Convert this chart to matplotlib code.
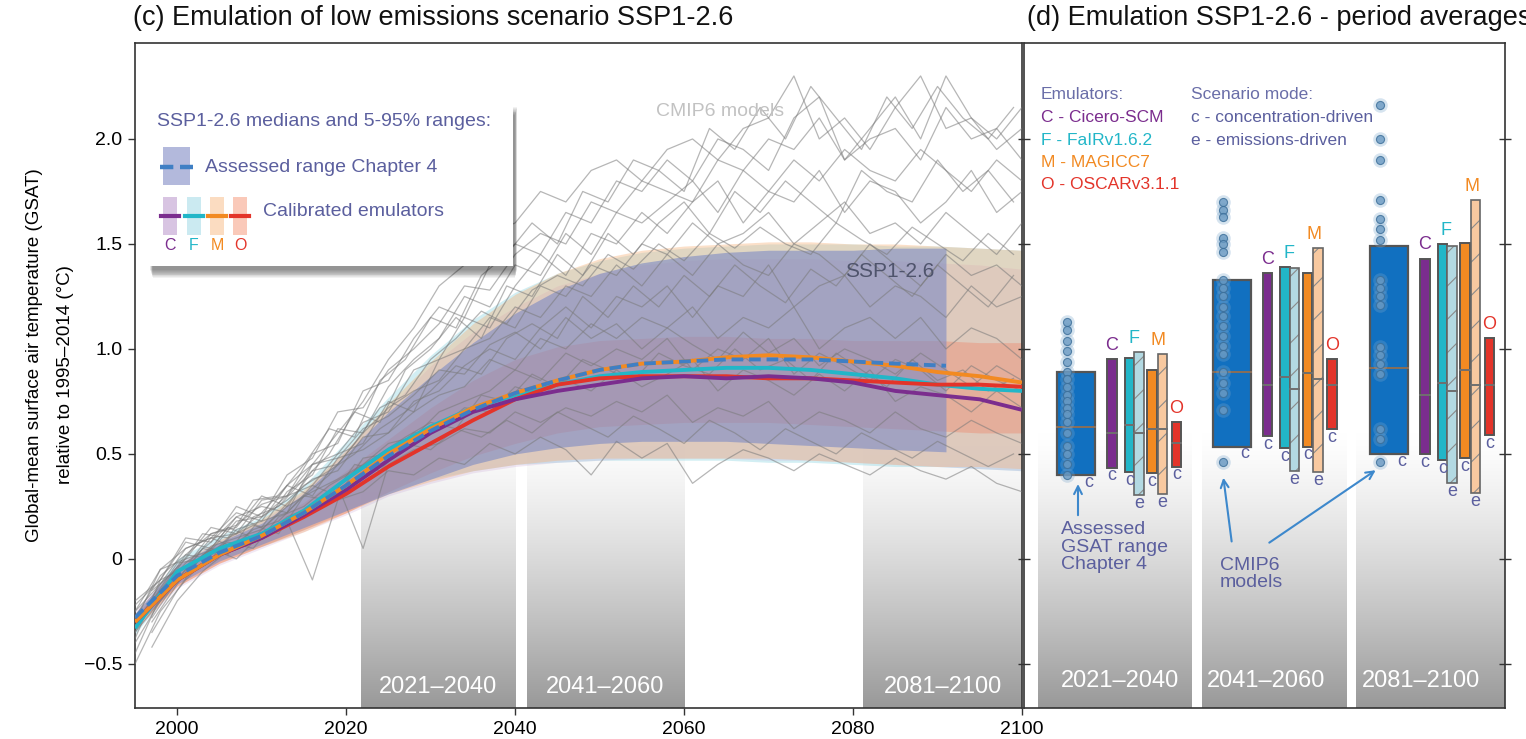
import matplotlib
matplotlib.use("Agg")
import matplotlib.pyplot as plt
import matplotlib.patches as mpatches
from matplotlib import font_manager
import numpy as np

W, H = 1526, 739

plt.rcParams['font.family'] = ['Liberation Sans', 'DejaVu Sans']
plt.rcParams['hatch.linewidth'] = 0.8
_names = {f.name for f in font_manager.fontManager.ttflist}
NARROW = ['Liberation Sans Narrow', 'Liberation Sans', 'DejaVu Sans'] \
    if 'Liberation Sans Narrow' in _names else ['Liberation Sans', 'DejaVu Sans']

YMIN, YMAX = -0.71, 2.457

# ---- panel (c): time series ------------------------------------------------
years = [1995, 2000, 2005, 2010, 2015, 2020, 2025, 2030, 2035, 2040, 2045,
         2050, 2055, 2060, 2065, 2070, 2075, 2080, 2085, 2090, 2095, 2100]

# assessed range (Chapter 4), stops at 2091
assessed_years = [1995, 2000, 2005, 2010, 2015, 2020, 2025, 2030, 2035, 2040,
                  2045, 2050, 2055, 2060, 2065, 2070, 2075, 2080, 2085, 2091]
assessed_med = [-0.28, -0.08, 0.03, 0.11, 0.22, 0.35, 0.49, 0.61, 0.71, 0.79,
                0.85, 0.90, 0.93, 0.94, 0.95, 0.95, 0.95, 0.94, 0.93, 0.92]
assessed_lo = [-0.32, -0.12, -0.01, 0.07, 0.15, 0.23, 0.31, 0.38, 0.45, 0.50,
               0.53, 0.55, 0.56, 0.56, 0.56, 0.55, 0.54, 0.53, 0.52, 0.51]
assessed_hi = [-0.26, -0.03, 0.08, 0.17, 0.31, 0.50, 0.70, 0.87, 1.03, 1.17,
               1.28, 1.36, 1.41, 1.44, 1.46, 1.47, 1.47, 1.47, 1.48, 1.48]

cicero_med = [-0.30, -0.10, 0.02, 0.10, 0.21, 0.33, 0.47, 0.60, 0.70, 0.76, 0.80,
              0.83, 0.86, 0.87, 0.86, 0.87, 0.86, 0.84, 0.80, 0.78, 0.76, 0.71]
cicero_lo = [-0.34, -0.14, -0.03, 0.05, 0.13, 0.21, 0.30, 0.36, 0.41, 0.44, 0.46,
             0.47, 0.48, 0.48, 0.48, 0.47, 0.47, 0.46, 0.45, 0.44, 0.43, 0.42]
cicero_hi = [-0.25, -0.02, 0.09, 0.18, 0.32, 0.52, 0.72, 0.92, 1.08, 1.20, 1.30,
             1.36, 1.40, 1.42, 1.43, 1.43, 1.43, 1.42, 1.42, 1.41, 1.40, 1.38]

fair_med = [-0.33, -0.06, 0.05, 0.12, 0.23, 0.38, 0.52, 0.63, 0.72, 0.78, 0.83,
            0.87, 0.89, 0.90, 0.91, 0.91, 0.90, 0.88, 0.86, 0.83, 0.81, 0.80]
fair_lo = [-0.36, -0.10, 0.00, 0.06, 0.14, 0.23, 0.32, 0.38, 0.42, 0.45, 0.46,
           0.47, 0.47, 0.47, 0.47, 0.46, 0.46, 0.45, 0.44, 0.44, 0.43, 0.42]
fair_hi = [-0.28, 0.00, 0.11, 0.20, 0.35, 0.56, 0.77, 0.97, 1.14, 1.27, 1.36,
           1.42, 1.46, 1.48, 1.49, 1.50, 1.50, 1.50, 1.49, 1.49, 1.48, 1.47]

magicc_med = [-0.30, -0.10, 0.02, 0.11, 0.22, 0.35, 0.50, 0.62, 0.72, 0.79, 0.85,
              0.90, 0.93, 0.94, 0.96, 0.97, 0.96, 0.94, 0.92, 0.89, 0.87, 0.84]
magicc_lo = [-0.34, -0.13, -0.02, 0.06, 0.13, 0.22, 0.31, 0.37, 0.42, 0.45, 0.47,
             0.48, 0.48, 0.48, 0.48, 0.48, 0.47, 0.46, 0.45, 0.44, 0.44, 0.43]
magicc_hi = [-0.26, -0.03, 0.09, 0.19, 0.33, 0.52, 0.74, 0.94, 1.12, 1.26, 1.36,
             1.43, 1.47, 1.49, 1.50, 1.51, 1.51, 1.50, 1.50, 1.49, 1.48, 1.47]

oscar_med = [-0.30, -0.10, 0.02, 0.10, 0.20, 0.31, 0.44, 0.55, 0.66, 0.76, 0.83,
             0.86, 0.87, 0.87, 0.87, 0.86, 0.86, 0.85, 0.84, 0.83, 0.83, 0.82]
oscar_lo = [-0.32, -0.13, -0.02, 0.06, 0.14, 0.22, 0.32, 0.41, 0.49, 0.55, 0.60,
            0.63, 0.64, 0.65, 0.65, 0.65, 0.64, 0.63, 0.62, 0.61, 0.60, 0.60]
oscar_hi = [-0.27, -0.06, 0.06, 0.15, 0.27, 0.42, 0.57, 0.72, 0.85, 0.95, 1.01,
            1.04, 1.05, 1.06, 1.06, 1.05, 1.05, 1.04, 1.04, 1.04, 1.03, 1.03]

# individual CMIP6 runs, sampled every third year (two offset grids)
cmip6_years = list(range(1995, 2101, 3))
cmip6_runs = [
    [-0.25, -0.12, 0.05, 0.10, 0.22, 0.18, 0.35, 0.45, 0.60, 0.75, 0.95, 1.10, 1.30, 1.40, 1.55, 1.60, 1.75, 1.70,
     1.85, 1.90, 1.80, 1.95, 2.00, 1.90, 2.05, 2.10, 2.30, 2.00, 2.10, 1.95, 2.15, 2.30, 2.05, 2.10, 1.95, 2.05],
    [-0.30, -0.05, 0.00, 0.15, 0.12, 0.28, 0.30, 0.50, 0.55, 0.80, 0.85, 1.05, 1.20, 1.15, 1.40, 1.50, 1.45, 1.65,
     1.60, 1.80, 1.75, 1.90, 1.80, 2.00, 1.95, 1.85, 2.10, 2.20, 1.90, 2.00, 2.05, 1.90, 2.15, 2.00, 2.05, 1.90],
    [-0.35, -0.15, -0.02, 0.08, 0.20, 0.15, 0.32, 0.40, 0.62, 0.60, 0.82, 0.95, 1.05, 1.25, 1.20, 1.40, 1.35, 1.55,
     1.45, 1.65, 1.60, 1.70, 1.80, 1.65, 1.85, 1.75, 1.90, 1.80, 1.95, 1.85, 1.80, 1.95, 1.85, 1.75, 1.90, 1.80],
    [-0.20, -0.10, 0.08, 0.05, 0.20, 0.25, 0.22, 0.45, 0.50, 0.65, 0.70, 0.90, 0.95, 1.15, 1.10, 1.30, 1.45, 1.35,
     1.55, 1.50, 1.65, 1.55, 1.70, 1.80, 1.60, 1.75, 1.70, 1.85, 1.65, 1.80, 1.75, 1.60, 1.70, 1.85, 1.65, 1.75],
    [-0.40, -0.20, -0.05, 0.10, 0.05, 0.20, 0.30, 0.35, 0.50, 0.55, 0.75, 0.70, 0.95, 1.00, 1.15, 1.10, 1.30, 1.25,
     1.40, 1.35, 1.50, 1.45, 1.60, 1.50, 1.55, 1.65, 1.50, 1.60, 1.70, 1.55, 1.60, 1.50, 1.65, 1.55, 1.45, 1.60],
    [-0.28, -0.08, 0.02, 0.12, 0.15, 0.30, 0.25, 0.42, 0.45, 0.60, 0.72, 0.80, 0.85, 1.00, 1.05, 1.20, 1.15, 1.30,
     1.25, 1.40, 1.30, 1.45, 1.35, 1.50, 1.40, 1.35, 1.50, 1.45, 1.35, 1.50, 1.40, 1.30, 1.45, 1.35, 1.40, 1.30],
    [-0.32, -0.12, 0.00, 0.04, 0.18, 0.20, 0.28, 0.38, 0.42, 0.58, 0.60, 0.75, 0.80, 0.92, 1.00, 0.95, 1.10, 1.20,
     1.10, 1.25, 1.20, 1.30, 1.15, 1.30, 1.25, 1.40, 1.20, 1.30, 1.35, 1.20, 1.30, 1.25, 1.15, 1.30, 1.20, 1.25],
    [-0.25, -0.05, 0.05, 0.10, 0.12, 0.22, 0.35, 0.30, 0.48, 0.52, 0.60, 0.70, 0.78, 0.82, 0.95, 0.90, 1.05, 1.00,
     1.12, 1.05, 1.15, 1.10, 1.20, 1.05, 1.15, 1.10, 1.20, 1.00, 1.10, 1.15, 1.05, 1.15, 1.00, 1.10, 1.05, 0.95],
    [-0.45, -0.18, -0.08, 0.06, 0.10, 0.14, 0.25, 0.32, 0.38, 0.45, 0.55, 0.58, 0.70, 0.75, 0.80, 0.90, 0.85, 0.98,
     0.92, 1.00, 0.95, 1.05, 0.90, 1.00, 0.95, 1.05, 0.88, 0.98, 0.92, 0.85, 0.95, 0.90, 0.80, 0.92, 0.85, 0.80],
    [-0.30, -0.15, 0.02, 0.00, 0.14, 0.18, 0.22, 0.35, 0.30, 0.48, 0.50, 0.60, 0.62, 0.72, 0.70, 0.82, 0.78, 0.85,
     0.80, 0.90, 0.82, 0.88, 0.95, 0.80, 0.90, 0.85, 0.78, 0.88, 0.80, 0.90, 0.75, 0.82, 0.78, 0.70, 0.80, 0.72],
    [-0.50, -0.25, -0.10, 0.02, 0.08, 0.10, 0.20, 0.25, 0.35, 0.05, 0.45, 0.52, 0.55, 0.62, 0.60, 0.70, 0.65, 0.72,
     0.68, 0.75, 0.70, 0.78, 0.65, 0.72, 0.68, 0.75, 0.62, 0.70, 0.66, 0.60, 0.70, 0.62, 0.58, 0.66, 0.60, 0.55],
    [-0.35, -0.20, -0.05, 0.05, 0.00, 0.12, 0.18, -0.10, 0.28, 0.32, 0.42, 0.40, 0.48, 0.45, 0.55, 0.50, 0.58, 0.52,
     0.40, 0.56, 0.48, 0.55, 0.36, 0.45, 0.52, 0.48, 0.42, 0.50, 0.45, 0.40, 0.48, 0.42, 0.38, 0.44, 0.36, 0.32],
    [-0.22, -0.10, 0.10, 0.08, 0.25, 0.20, 0.40, 0.48, 0.70, 0.72, 0.90, 1.00, 1.12, 1.30, 1.28, 1.45, 1.55, 1.50,
     1.70, 1.65, 1.80, 1.75, 1.70, 1.90, 1.85, 2.00, 1.95, 2.10, 1.90, 2.05, 2.20, 2.00, 2.30, 2.10, 2.00, 2.15],
    [-0.38, -0.10, -0.04, 0.12, 0.16, 0.26, 0.30, 0.45, 0.48, 0.62, 0.68, 0.78, 0.90, 0.88, 1.02, 1.08, 1.00, 1.15,
     1.05, 1.12, 1.00, 1.10, 1.02, 0.95, 1.08, 0.98, 1.05, 0.92, 1.00, 0.95, 0.88, 0.98, 0.90, 0.82, 0.92, 0.85],
]
cmip6_years_b = list(range(1997, 2100, 3))
cmip6_runs_b = [
    [-0.15, -0.05, 0.12, 0.10, 0.28, 0.30, 0.45, 0.62, 0.58, 0.85, 0.95, 1.15, 1.10, 1.35, 1.45, 1.60, 1.50, 1.75,
     1.70, 1.90, 1.85, 1.75, 2.05, 1.95, 2.15, 2.00, 2.25, 2.10, 1.95, 2.20, 2.05, 2.25, 2.10, 2.00, 2.15],
    [-0.30, -0.12, 0.05, 0.02, 0.20, 0.25, 0.38, 0.50, 0.70, 0.65, 0.90, 1.00, 1.15, 1.05, 1.30, 1.25, 1.45, 1.35,
     1.55, 1.45, 1.60, 1.70, 1.55, 1.75, 1.65, 1.80, 1.70, 1.60, 1.85, 1.75, 1.70, 1.90, 1.75, 1.85, 1.70],
    [-0.20, -0.02, 0.00, 0.15, 0.10, 0.22, 0.35, 0.42, 0.50, 0.62, 0.70, 0.80, 0.92, 0.88, 1.05, 1.12, 1.05, 1.25,
     1.15, 1.30, 1.20, 1.35, 1.25, 1.40, 1.30, 1.22, 1.38, 1.30, 1.45, 1.35, 1.25, 1.40, 1.30, 1.20, 1.35],
    [-0.35, -0.15, 0.02, 0.08, 0.05, 0.20, 0.25, 0.35, 0.42, 0.50, 0.58, 0.65, 0.62, 0.78, 0.75, 0.88, 0.82, 0.95,
     0.90, 0.85, 0.98, 0.92, 0.88, 1.00, 0.90, 0.95, 0.85, 0.98, 0.90, 0.82, 0.95, 0.85, 0.90, 0.80, 0.86],
    [-0.28, -0.10, -0.02, 0.10, 0.16, 0.12, 0.30, 0.28, 0.45, 0.42, 0.55, 0.52, 0.62, 0.58, 0.66, 0.60, 0.70, 0.64,
     0.58, 0.68, 0.62, 0.55, 0.66, 0.60, 0.52, 0.62, 0.56, 0.50, 0.60, 0.54, 0.48, 0.56, 0.50, 0.44, 0.50],
    [-0.42, -0.20, -0.06, 0.04, 0.14, 0.18, 0.30, 0.40, 0.55, 0.72, 0.78, 0.95, 1.05, 1.18, 1.12, 1.28, 1.35, 1.30,
     1.45, 1.38, 1.50, 1.42, 1.55, 1.48, 1.58, 1.50, 1.45, 1.60, 1.52, 1.45, 1.58, 1.50, 1.42, 1.55, 1.45],
]

period_labels = ['2021–2040', '2041–2060', '2081–2100']
period_spans = [(2021.7, 2040.0), (2041.4, 2060.0), (2081.2, 2100.0)]

# ---- panel (d): period averages -------------------------------------------
box_lo = [0.40, 0.535, 0.50]
box_hi = [0.89, 1.33, 1.49]
box_med = [0.63, 0.89, 0.91]

# bars per period: C(c), F(c), F(e), M(c), M(e), O(c)
bar_letter = ['C', 'F', 'F', 'M', 'M', 'O']
bar_mode = ['c', 'c', 'e', 'c', 'e', 'c']
bar_lo = [[0.435, 0.415, 0.305, 0.41, 0.31, 0.44],
          [0.585, 0.53, 0.42, 0.535, 0.415, 0.62],
          [0.50, 0.47, 0.36, 0.48, 0.315, 0.59]]
bar_hi = [[0.95, 0.957, 0.985, 0.90, 0.976, 0.65],
          [1.36, 1.39, 1.385, 1.36, 1.48, 0.95],
          [1.43, 1.50, 1.49, 1.505, 1.71, 1.05]]
bar_med = [[0.60, 0.64, 0.60, 0.62, 0.62, 0.55],
           [0.83, 0.865, 0.81, 0.885, 0.855, 0.83],
           [0.78, 0.84, 0.80, 0.90, 0.83, 0.83]]

cmip6_means = [
    [1.13, 1.09, 1.04, 0.99, 0.94, 0.89, 0.855, 0.82, 0.78, 0.75, 0.72, 0.69, 0.65, 0.60, 0.54, 0.50, 0.45, 0.40],
    [1.70, 1.66, 1.63, 1.53, 1.50, 1.46, 1.33, 1.29, 1.25, 1.20, 1.155, 1.11, 1.06, 1.015, 0.975, 0.89, 0.84,
     0.79, 0.71, 0.46],
    [2.16, 2.00, 1.90, 1.71, 1.62, 1.57, 1.52, 1.33, 1.29, 1.25, 1.21, 1.01, 0.97, 0.93, 0.88, 0.62, 0.57, 0.46],
]

# colours
C_COL, F_COL, M_COL, O_COL = '#7b2d8e', '#22b6c8', '#f28a22', '#e3342a'
ASSESS_LINE, ASSESS_FILL = '#3f7fc4', '#7f8cc4'
SLATE = '#5b5f9e'


def fx(x):
    return x / W


def fy(y):
    return 1 - y / H


def grey_column(ax, x0, x1, top=0.6):
    f = np.linspace(0, 1, 256)[:, None]
    g = 1 - 0.40 * f ** 1.3
    rgb = np.dstack([g, g, g])
    ax.imshow(rgb, extent=[x0, x1, YMIN, top], aspect='auto', origin='upper',
              zorder=0, interpolation='bilinear')


fig = plt.figure(figsize=(W / 100, H / 100), dpi=100)
axc = fig.add_axes([fx(135), fy(708), (1022 - 135) / W, (708 - 43) / H])
axd = fig.add_axes([fx(1024), fy(708), (1505 - 1024) / W, (708 - 43) / H])

# ---------------- panel (c) ----------------
for (x0, x1), lab in zip(period_spans, period_labels):
    grey_column(axc, x0, x1)
    axc.text((x0 + x1) / 2, -0.61, lab, color='white', fontsize=17, family=NARROW,
             ha='center', va='center', zorder=1)

# emulator 5-95% ranges, then the assessed range over them
for lo, hi, face, a in [(fair_lo, fair_hi, '#8fd6e2', 0.40), (cicero_lo, cicero_hi, '#c8a4d6', 0.25),
                        (magicc_lo, magicc_hi, '#f7b27a', 0.40), (oscar_lo, oscar_hi, '#ef8468', 0.40)]:
    axc.fill_between(years, lo, hi, color=face, alpha=a, lw=0, zorder=1)
axc.fill_between(assessed_years, assessed_lo, assessed_hi, color=ASSESS_FILL,
                 alpha=0.62, lw=0, zorder=2)

for run in cmip6_runs:
    axc.plot(cmip6_years, run, color='#7a7a7a', lw=0.9, alpha=0.55, zorder=3)
for run in cmip6_runs_b:
    axc.plot(cmip6_years_b, run, color='#7a7a7a', lw=0.9, alpha=0.55, zorder=3)

for med, col in [(fair_med, F_COL), (oscar_med, O_COL), (cicero_med, C_COL),
                 (magicc_med, M_COL)]:
    axc.plot(years, med, color=col, lw=2.8, zorder=4, solid_capstyle='butt')
axc.plot(assessed_years, assessed_med, color=ASSESS_LINE, lw=2.8, ls=(0, (3, 1.5)),
         zorder=4)

axc.text(2064.3, 2.13, 'CMIP6 models', color='#c2c2c2', fontsize=14,
         ha='center', va='center', zorder=5)
axc.text(2084.3, 1.37, 'SSP1-2.6', color='#4f546c', fontsize=15,
         ha='center', va='center', zorder=5)

axc.set_xlim(1995, 2100)
axc.set_ylim(YMIN, YMAX)
axc.set_xticks([2000, 2020, 2040, 2060, 2080, 2100])
axc.set_yticks([2.0, 1.5, 1.0, 0.5, 0, -0.5])
axc.set_yticklabels(['2.0', '1.5', '1.0', '0.5', '0', '\u22120.5'])
axc.tick_params(labelsize=14, length=5, width=1, color='#333333', pad=4)

# ---------------- panel (d) ----------------
col_spans = [(14, 168), (178, 323), (332, 481)]
box_x = [52, 207.5, 365]
bar_off = [36, 53.5, 63, 76, 86.5, 100.5]
bar_face = [C_COL, F_COL, '#b3d9e2', M_COL, '#f8c9a0', O_COL]
label_pos = [96, 242, 397]

for (x0, x1), lab, lx in zip(col_spans, period_labels, label_pos):
    grey_column(axd, x0, x1)
    axd.text(lx, -0.58, lab, color='white', fontsize=17, family=NARROW,
             ha='center', va='center', zorder=1)

for p in range(3):
    bc = box_x[p]
    axd.add_patch(mpatches.Rectangle((bc - 19, box_lo[p]), 38, box_hi[p] - box_lo[p],
                                     fc='#1170c0', ec='#555555', lw=1.6, zorder=2))
    axd.plot([bc - 19, bc + 19], [box_med[p]] * 2, color='#8a6e58', lw=1.4, zorder=3)
    # soft halo behind each model dot
    axd.scatter([bc - 9] * len(cmip6_means[p]), cmip6_means[p], s=110,
                fc='#7aa6cc', lw=0, alpha=0.3, zorder=4)
    axd.scatter([bc - 9] * len(cmip6_means[p]), cmip6_means[p], s=34,
                fc='#6a9ac2', ec='#3a6d98', lw=0.8, alpha=0.8, zorder=4)
    axd.text(bc + 13, box_lo[p] - 0.035, 'c', color=SLATE, fontsize=13,
             ha='center', va='center', zorder=5)

    for i in range(6):
        xc = bc + bar_off[i]
        lo, hi = bar_lo[p][i], bar_hi[p][i]
        if bar_mode[i] == 'e':
            axd.add_patch(mpatches.Rectangle((xc - 4.75, lo), 9.5, hi - lo, fc=bar_face[i],
                                             ec='#8a8a8a', lw=0, hatch='/', zorder=2))
            axd.add_patch(mpatches.Rectangle((xc - 4.75, lo), 9.5, hi - lo, fill=False,
                                             ec='#666666', lw=1.2, zorder=2))
        else:
            axd.add_patch(mpatches.Rectangle((xc - 4.75, lo), 9.5, hi - lo, fc=bar_face[i],
                                             ec='#555555', lw=1.4, zorder=2))
        axd.plot([xc - 4.75, xc + 4.75], [bar_med[p][i]] * 2, color='#6f6f6f', lw=1.4, zorder=3)
        axd.text(xc, lo - 0.04, bar_mode[i], color=SLATE, fontsize=13,
                 ha='center', va='center', zorder=5)

    # emulator letters above the bars
    axd.text(bc + bar_off[0], bar_hi[p][0] + 0.025, 'C', color=C_COL, fontsize=13,
             ha='center', va='bottom', zorder=5)
    axd.text(bc + bar_off[1] + 4, max(bar_hi[p][1], bar_hi[p][2]) + 0.025, 'F', color=F_COL,
             fontsize=13, ha='center', va='bottom', zorder=5)
    axd.text(bc + bar_off[4] - 4, max(bar_hi[p][3], bar_hi[p][4]) + 0.025, 'M', color=M_COL,
             fontsize=13, ha='center', va='bottom', zorder=5)
    axd.text(bc + bar_off[5], bar_hi[p][5] + 0.025, 'O', color=O_COL, fontsize=13,
             ha='center', va='bottom', zorder=5)

axd.text(17, 2.21, 'Emulators:', color='#6a6ea8', fontsize=12.5, va='center')
for k, (txt, col) in enumerate([('C - Cicero-SCM', C_COL), ('F - FaIRv1.6.2', F_COL),
                                ('M - MAGICC7', M_COL), ('O - OSCARv3.1.1', O_COL)]):
    axd.text(17, 2.10 - 0.105 * k, txt, color=col, fontsize=12.5, va='center')
axd.text(167, 2.21, 'Scenario mode:', color='#6a6ea8', fontsize=12.5, va='center')
axd.text(167, 2.10, 'c - concentration-driven', color=SLATE, fontsize=12.5, va='center')
axd.text(167, 1.995, 'e - emissions-driven', color=SLATE, fontsize=12.5, va='center')

axd.text(37, 0.18, 'Assessed\nGSAT range\nChapter 4', color=SLATE, fontsize=14,
         va='top', ha='left', linespacing=1.05, zorder=5)
axd.text(196, 0.01, 'CMIP6\nmodels', color=SLATE, fontsize=14, va='top', ha='left',
         linespacing=1.05, zorder=5)
arrow = dict(arrowstyle='->', color='#3d88cc', lw=1.5, mutation_scale=14)
axd.annotate('', xy=(54, 0.37), xytext=(54, 0.195), arrowprops=arrow, zorder=5)
axd.annotate('', xy=(199, 0.40), xytext=(208, 0.07), arrowprops=arrow, zorder=5)
axd.annotate('', xy=(354, 0.43), xytext=(243, 0.07), arrowprops=arrow, zorder=5)

axd.set_xlim(0, 481)
axd.set_ylim(YMIN, YMAX)
axd.set_xticks([])
axd.set_yticks([2.0, 1.5, 1.0, 0.5, 0, -0.5])
axd.tick_params(axis='y', left=True, right=True, labelleft=False, direction='inout',
                length=8, width=1, color='#333333')

for ax in (axc, axd):
    for sp in ax.spines.values():
        sp.set_color('#333333')
        sp.set_linewidth(1.2)

# ---------------- legend box with drop shadow ----------------
bx0, by0, bx1, by1 = 148, 103, 513, 266
for i in range(10):
    fig.patches.append(mpatches.Rectangle((fx(bx0 + 2 + i * 0.3), fy(by1 + 4 + i * 0.9)),
                                          (bx1 - bx0 + 2 - i * 0.5) / W, (by1 - by0) / H,
                                          transform=fig.transFigure, fc='black', alpha=0.05,
                                          lw=0, zorder=10))
fig.patches.append(mpatches.Rectangle((fx(bx0), fy(by1)), (bx1 - bx0) / W, (by1 - by0) / H,
                                      transform=fig.transFigure, fc='white', lw=0, zorder=11))

fig.text(fx(157), fy(122), 'SSP1-2.6 medians and 5-95% ranges:', color=SLATE,
         fontsize=14, va='center', zorder=12)
fig.patches.append(mpatches.Rectangle((fx(163), fy(185)), 27 / W, 38 / H, transform=fig.transFigure,
                                      fc='#b3b9dc', lw=0, zorder=12))
fig.lines.append(plt.Line2D([fx(160), fx(193)], [fy(167), fy(167)], transform=fig.transFigure,
                            color=ASSESS_LINE, lw=3.2, ls=(0, (3, 1.5)), zorder=13))
fig.text(fx(205), fy(167), 'Assessed range Chapter 4', color=SLATE, fontsize=14,
         va='center', zorder=12)

for x0, face, col, letter in [(163, '#d8c4e2', C_COL, 'C'), (187, '#cbeaf1', F_COL, 'F'),
                              (210, '#fbdcc1', M_COL, 'M'), (233, '#fac9b9', O_COL, 'O')]:
    fig.patches.append(mpatches.Rectangle((fx(x0), fy(235)), 14 / W, 38 / H,
                                          transform=fig.transFigure, fc=face, lw=0, zorder=12))
    fig.lines.append(plt.Line2D([fx(x0 - 2), fx(x0 + 16)], [fy(216), fy(216)],
                                transform=fig.transFigure, color=col, lw=3, zorder=13))
    fig.text(fx(x0 + 7), fy(246), letter, color=col, fontsize=11.5, ha='center',
             va='center', zorder=12)
fig.text(fx(263), fy(212), 'Calibrated emulators', color=SLATE, fontsize=14,
         va='center', zorder=12)

# ---------------- titles and axis label ----------------
fig.text(fx(133), fy(18), '(c) Emulation of low emissions scenario SSP1-2.6',
         fontsize=19.5, va='center', ha='left', color='#111111')
fig.text(fx(1027), fy(18), '(d) Emulation SSP1-2.6 - period averages',
         fontsize=19.5, va='center', ha='left', color='#111111')
fig.text(fx(35), fy(355), 'Global-mean surface air temperature (GSAT)',
         rotation=90, fontsize=13.5, family=NARROW, ha='center', va='center')
fig.text(fx(66), fy(375), 'relative to 1995–2014 (°C)',
         rotation=90, fontsize=13.5, family=NARROW, ha='center', va='center')

fig.savefig('out.png', dpi=100)
